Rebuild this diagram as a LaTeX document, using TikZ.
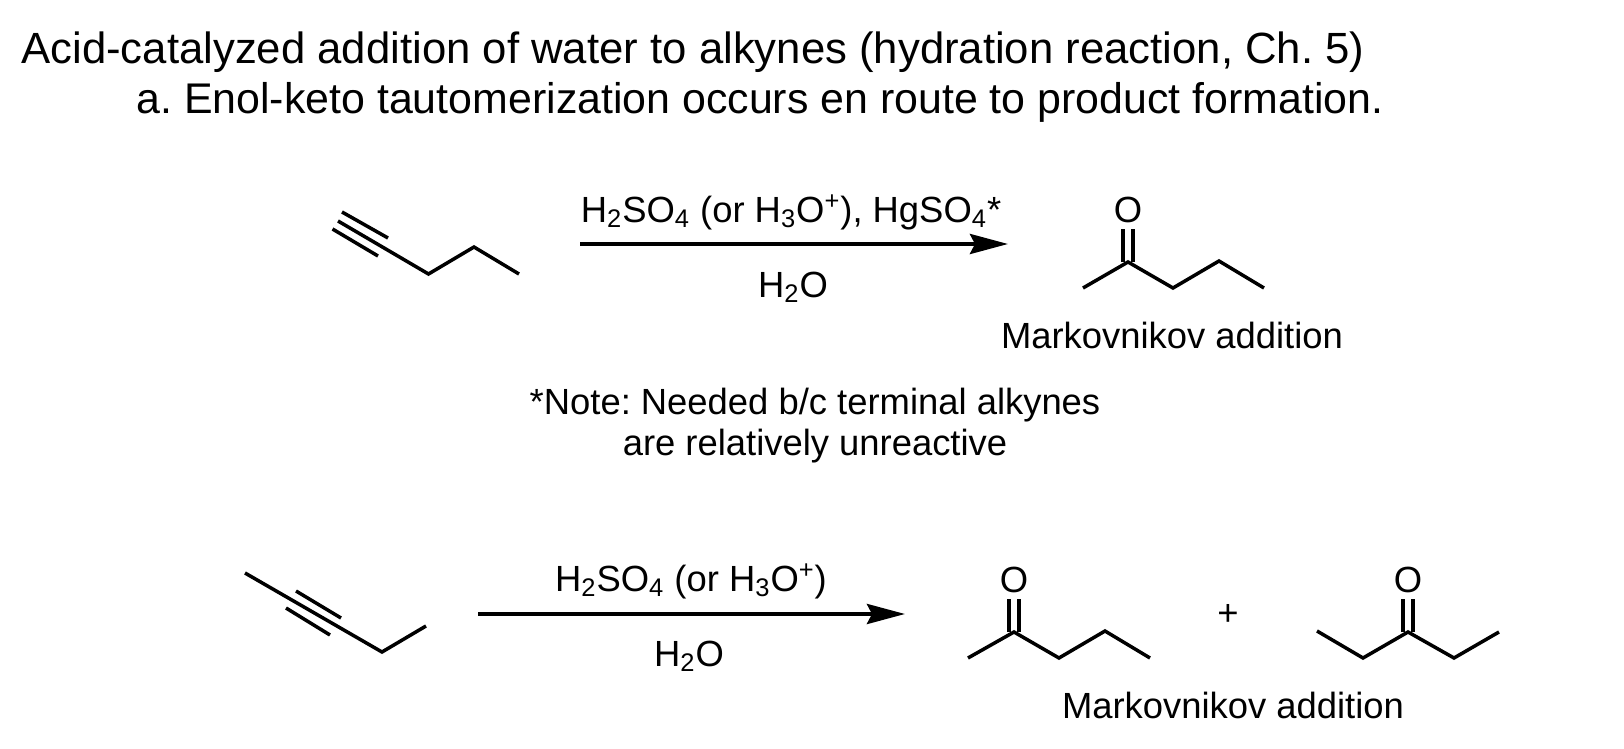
\documentclass[tikz,border=0pt]{standalone}
\usepackage{fontspec}
\setmainfont{Liberation Sans}
\usetikzlibrary{arrows.meta,positioning}
\frenchspacing

\begin{document}
\begin{tikzpicture}[x=0.5pt,y=-0.5pt,>={Stealth[length=19pt,width=10pt,inset=2.5pt]},
  bond/.style={line width=1.75pt,line join=miter},
  rxn arrow/.style={->,line width=2pt},
  title text/.style={anchor=base west,inner sep=0pt},
  chem text/.style={anchor=base,inner sep=0pt,font=\fontsize{18.2}{22}\selectfont},
  oxygen/.style={inner sep=3pt,font=\fontsize{18.2}{22}\selectfont}]
   \useasboundingbox (0,0) rectangle (1624,749);
   \node[title text,font=\fontsize{21.85}{26}\selectfont] (title)    at (21,63.5) {Acid-catalyzed addition of water to alkynes (hydration reaction, Ch. 5)};
   \node[title text,font=\fontsize{21.45}{26}\selectfont] (subtitle) at (136,114)  {a. Enol-keto tautomerization occurs en route to product formation.};

   % first reaction
   \coordinate (t1) at (338,221);
   \coordinate (t2) at (428.5,274);
   \coordinate (t3) at (474,247);
   \coordinate (t4) at (519,274);
   \coordinate (t1a) at (342,212);
   \coordinate (t2a) at (388,238);
   \coordinate (t1b) at (332.5,229);
   \coordinate (t2b) at (378,256);
   \draw[bond] (t1) -- (t2) -- (t3) -- (t4);
   \draw[bond] (t1a) -- (t2a);
   \draw[bond] (t1b) -- (t2b);

   \coordinate (arrow1s) at (580,244);
   \coordinate (arrow1e) at (1008,244);
   \draw[rxn arrow] (arrow1s) -- (arrow1e);
   \node[chem text] (reagent1) at (791,222) {H\textsubscript{2}SO\textsubscript{4} (or H\textsubscript{3}O\textsuperscript{+}), HgSO\textsubscript{4}*};
   \node[chem text] (water1)   at (793,297) {H\textsubscript{2}O};

   \coordinate (k1) at (1083,288);
   \coordinate (k2) at (1128,262);
   \coordinate (k3) at (1173,288);
   \coordinate (k4) at (1219,261);
   \coordinate (k5) at (1264,288);
   \node[oxygen] (ko) at (1128,210) {O};
   \draw[bond] (k1) -- (k2) -- (k3) -- (k4) -- (k5);
   \draw[bond] ([xshift=-2.6pt]k2) -- ([xshift=-2.6pt]ko.south);
   \draw[bond] ([xshift=2.6pt]k2) -- ([xshift=2.6pt]ko.south);
   \node[chem text] (label1) at (1172,348) {Markovnikov addition};

   \node[chem text] (note1) at (815,414) {*Note: Needed b/c terminal alkynes};
   \node[chem text] (note2) at (815,455) {are relatively unreactive};

   % second reaction
   \coordinate (i1) at (245,573);
   \coordinate (i2) at (382,652);
   \coordinate (i3) at (426,626);
   \coordinate (i1a) at (296,591);
   \coordinate (i2a) at (341,618);
   \coordinate (i1b) at (286,608);
   \coordinate (i2b) at (330,635);
   \draw[bond] (i1) -- (i2) -- (i3);
   \draw[bond] (i1a) -- (i2a);
   \draw[bond] (i1b) -- (i2b);

   \coordinate (arrow2s) at (478,614);
   \coordinate (arrow2e) at (905,614);
   \draw[rxn arrow] (arrow2s) -- (arrow2e);
   \node[chem text] (reagent2) at (691,591) {H\textsubscript{2}SO\textsubscript{4} (or H\textsubscript{3}O\textsuperscript{+})};
   \node[chem text] (water2)   at (689,666) {H\textsubscript{2}O};

   \coordinate (m1) at (968,658);
   \coordinate (m2) at (1014,632);
   \coordinate (m3) at (1059,658);
   \coordinate (m4) at (1105,631);
   \coordinate (m5) at (1150,658);
   \node[oxygen] (mo) at (1014,580) {O};
   \draw[bond] (m1) -- (m2) -- (m3) -- (m4) -- (m5);
   \draw[bond] ([xshift=-2.6pt]m2) -- ([xshift=-2.6pt]mo.south);
   \draw[bond] ([xshift=2.6pt]m2) -- ([xshift=2.6pt]mo.south);

   \node[oxygen] (plus) at (1228,615) {+};

   \coordinate (n1) at (1317,631);
   \coordinate (n2) at (1363,658);
   \coordinate (n3) at (1408,632);
   \coordinate (n4) at (1454,658);
   \coordinate (n5) at (1499,632);
   \node[oxygen] (no) at (1408,580) {O};
   \draw[bond] (n1) -- (n2) -- (n3) -- (n4) -- (n5);
   \draw[bond] ([xshift=-2.6pt]n3) -- ([xshift=-2.6pt]no.south);
   \draw[bond] ([xshift=2.6pt]n3) -- ([xshift=2.6pt]no.south);
   \node[chem text] (label2) at (1233,718) {Markovnikov addition};
\end{tikzpicture}
\end{document}
